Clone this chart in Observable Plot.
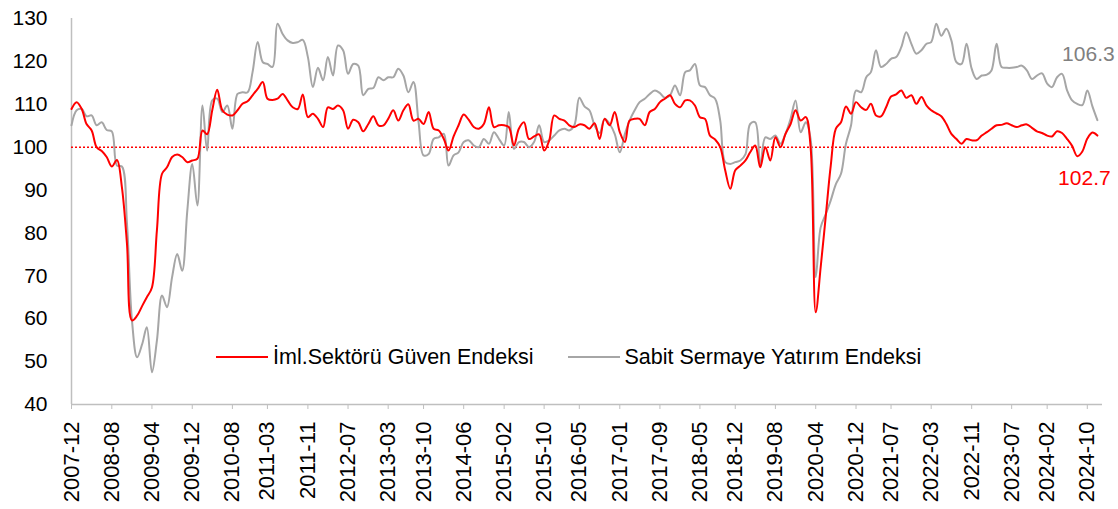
<!DOCTYPE html>
<html><head><meta charset="utf-8">
<script src="https://cdn.jsdelivr.net/npm/d3@7"></script>
<script src="https://cdn.jsdelivr.net/npm/@observablehq/plot@0.6"></script>
<style>
body{margin:0;background:#fff;}
#wrap{position:relative;width:1118px;height:509px;font-family:"Liberation Sans",Arial,sans-serif;}
.legend{position:absolute;left:216px;top:344px;display:flex;align-items:center;font-size:21.5px;line-height:26px;color:#000;white-space:nowrap;}
.sw{display:inline-block;width:52px;height:2px;margin-right:5px;}
</style></head><body><div id="wrap"></div>
<script>
const startMonth = "2007-12";
const seriesNames = ["İml.Sektörü Güven Endeksi", "Sabit Sermaye Yatırım Endeksi"];
const iml = [108.9,110.5,108.9,105.4,103.9,100.0,99.1,97.7,95.5,97.0,
90.7,77.4,59.6,60.7,63.0,65.0,67.3,80.6,93.8,95.3,
97.7,98.3,97.7,96.5,96.9,97.3,103.9,103.0,108.6,113.4,
108.6,107.6,107.4,108.6,110.1,110.7,112.1,113.6,115.2,111.3,
111.0,111.3,112.4,110.9,109.3,108.9,112.3,107.0,107.8,106.6,
104.7,109.3,108.9,109.7,108.6,104.3,106.4,105.8,103.7,105.4,
107.2,105.1,105.1,106.6,108.6,106.2,108.6,110.0,106.2,106.6,
105.4,108.2,104.3,103.9,101.9,99.2,102.5,105.1,107.6,106.4,
104.7,104.3,105.4,109.3,104.7,105.1,105.1,104.7,100.4,104.3,
105.8,101.9,102.5,103.0,99.2,101.6,107.4,106.6,106.2,105.1,
104.7,105.3,105.1,104.3,105.6,101.9,106.6,105.1,108.2,103.5,
101.2,106.2,106.6,106.6,105.1,108.2,108.9,110.5,111.3,112.1,
110.1,109.3,110.9,110.9,109.7,107.0,106.6,102.7,101.8,100.0,
94.6,90.3,94.6,95.7,96.9,98.8,100.4,95.3,100.0,96.9,
102.3,100.0,103.1,105.4,108.6,106.2,107.0,100.0,61.5,72.0,
84.0,95.7,104.3,105.8,109.5,107.8,110.5,109.3,108.7,110.1,
107.4,107.2,109.3,111.8,112.3,113.2,111.5,112.1,110.1,111.7,
109.7,108.6,107.9,107.2,105.4,103.1,101.9,100.8,101.9,101.6,
101.6,102.7,103.5,104.3,105.1,105.2,105.6,105.1,104.7,105.1,
105.3,104.5,103.7,103.3,102.7,102.5,103.7,103.3,101.9,100.3,
97.9,99.0,102.0,103.4,102.7];
const ssy = [105.1,108.6,108.9,107.2,107.4,105.1,105.8,104.0,103.7,95.7,
95.5,82.1,59.6,51.0,54.1,58.0,47.5,54.9,65.4,62.7,
69.7,75.1,71.2,85.2,96.1,86.4,109.7,99.2,110.9,111.3,
108.2,109.7,104.3,112.4,112.8,112.8,117.5,124.5,119.8,119.4,
118.7,128.8,126.4,124.9,124.3,124.5,125.0,121.0,114.0,118.5,
115.6,121.0,116.7,123.7,122.6,117.1,119.4,119.0,112.1,113.6,
113.8,116.3,115.6,116.3,116.3,118.3,116.7,112.8,115.2,105.8,
98.1,98.4,101.9,102.3,103.1,95.7,98.1,98.8,101.2,101.6,
100.4,100.0,101.9,100.8,103.5,101.9,100.4,108.2,99.6,101.2,
101.2,100.0,101.2,105.1,101.2,101.6,102.7,103.9,104.3,103.9,
105.1,111.5,109.5,108.6,105.1,103.3,106.6,105.4,103.1,98.8,
103.1,106.2,108.6,110.5,111.3,112.4,113.2,112.6,111.5,112.1,
114.4,112.1,117.5,117.9,119.4,114.4,114.0,112.1,111.3,106.2,
96.5,96.1,96.5,96.9,98.4,105.4,105.8,95.7,102.3,101.9,
102.7,100.8,103.1,106.6,110.9,103.5,105.8,101.9,69.7,81.3,
84.4,87.6,91.4,93.8,100.8,105.1,113.2,112.8,116.3,117.5,
122.6,118.7,119.4,120.6,121.0,123.3,126.8,124.1,121.8,122.6,
124.1,124.5,128.8,126.0,127.6,124.9,119.8,119.4,124.1,118.3,
115.9,116.7,116.9,117.9,124.1,118.7,118.5,118.5,118.7,119.0,
117.9,115.9,116.7,117.2,114.8,114.0,116.3,117.1,113.2,110.9,
110.1,109.8,113.2,109.5,106.3];
const xTickLabels = ["2007-12","2008-08","2009-04","2009-12","2010-08","2011-03","2011-11","2012-07","2013-03","2013-10","2014-06","2015-02","2015-10","2016-05","2017-01","2017-09","2018-05","2018-12","2019-08","2020-04","2020-12","2021-07","2022-03","2022-11","2023-07","2024-02","2024-10"];
const yTicks = [40,50,60,70,80,90,100,110,120,130];
const refValue = 100;
const refEndMonth = "2024-07";

const parse = d3.utcParse("%Y-%m");
const start = parse(startMonth);
const dates = iml.map((_, i) => d3.utcMonth.offset(start, i));
const rows = dates.map((d, i) => ({date: d, iml: iml[i], ssy: ssy[i]}));
const xEnd = d3.utcMonth.offset(dates[dates.length - 1], 1);
const tickDates = xTickLabels.map(parse);
const last = rows[rows.length - 1];

const chart = Plot.plot({
  width: 1118, height: 509,
  marginTop: 18, marginBottom: 105, marginLeft: 71, marginRight: 16,
  style: {fontFamily: "Liberation Sans, Arial, sans-serif", fontSize: "21px", color: "#000", background: "#fff"},
  x: {type: "utc", domain: [start, xEnd]},
  y: {domain: [40, 130]},
  marks: [
    Plot.axisY({ticks: yTicks, tickSize: 0, tickPadding: 24, fontSize: 21, label: null}),
    Plot.axisX({ticks: tickDates, tickFormat: (d, i) => xTickLabels[i], tickRotate: -90, tickSize: 5, tickPadding: 12, fontSize: 22, stroke: "#bfbfbf", label: null}),
    Plot.ruleY([40], {stroke: "#bfbfbf", strokeWidth: 1.5}),
    Plot.ruleX([start], {stroke: "#bfbfbf", strokeWidth: 1.5}),
    Plot.ruleY([{y: refValue, x1: start, x2: parse(refEndMonth)}], {y: "y", x1: "x1", x2: "x2", stroke: "#ff0000", strokeDasharray: "2,2", strokeWidth: 1.5}),
    Plot.lineY(rows, {x: "date", y: "ssy", stroke: "#a6a6a6", strokeWidth: 2, curve: "catmull-rom"}),
    Plot.lineY(rows, {x: "date", y: "iml", stroke: "#ff0000", strokeWidth: 2, curve: "catmull-rom"}),
    Plot.text([last], {x: "date", y: "ssy", text: d => d.ssy.toFixed(1), dx: -9, dy: -66, fill: "#808080", fontSize: 21}),
    Plot.text([last], {x: "date", y: "iml", text: d => d.iml.toFixed(1), dx: -13, dy: 43, fill: "#ff0000", fontSize: 21})
  ]
});
const wrap = document.getElementById("wrap");
wrap.appendChild(chart);
const legend = document.createElement("div");
legend.className = "legend";
legend.innerHTML = `<span class="sw" style="background:#ff0000"></span><span>${seriesNames[0]}</span>` +
  `<span class="sw" style="background:#a6a6a6;margin-left:34px"></span><span>${seriesNames[1]}</span>`;
wrap.appendChild(legend);
</script>
</body></html>
